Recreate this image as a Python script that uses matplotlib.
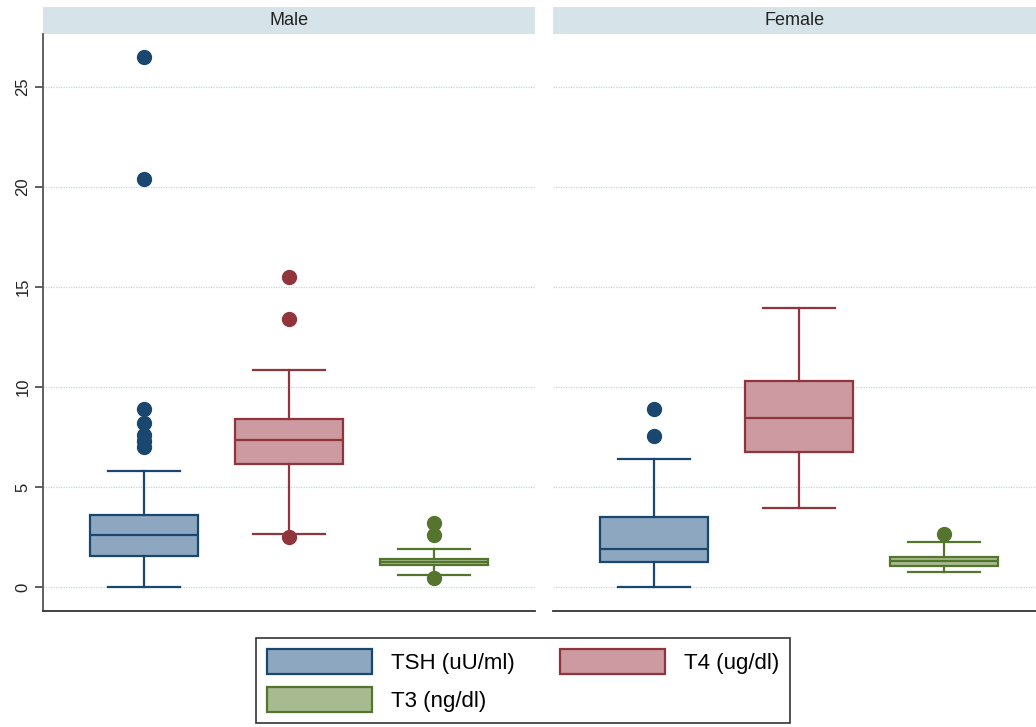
import matplotlib.pyplot as plt
from matplotlib.patches import Patch, Rectangle

plt.rcParams['font.family'] = ['Liberation Sans', 'DejaVu Sans']

panels = ['Male', 'Female']
hormones = ['TSH (uU/ml)', 'T4 (ug/dl)', 'T3 (ng/dl)']

# box summaries, order: TSH, T4, T3
male_q1 = [1.57, 6.15, 1.10]
male_med = [2.60, 7.35, 1.25]
male_q3 = [3.60, 8.40, 1.40]
male_lo = [0.00, 2.67, 0.60]
male_hi = [5.80, 10.85, 1.90]
male_out = [[7.0, 7.3, 7.6, 8.2, 8.9, 20.4, 26.5], [2.5, 13.4, 15.5], [0.45, 2.6, 3.2]]

female_q1 = [1.27, 6.73, 1.07]
female_med = [1.92, 8.47, 1.30]
female_q3 = [3.50, 10.30, 1.52]
female_lo = [0.00, 3.93, 0.73]
female_hi = [6.38, 13.93, 2.27]
female_out = [[7.57, 8.92], [], [2.67]]

edge_colors = ['#1a476f', '#90353b', '#55752f']
fill_colors = ['#8ea7c0', '#cc9aa0', '#a8bb90']

W, H = 1036, 727


def make_stats(q1, med, q3, lo, hi, out):
    stats = []
    for i in range(len(q1)):
        stats.append(dict(q1=q1[i], med=med[i], q3=q3[i], whislo=lo[i], whishi=hi[i], fliers=out[i]))
    return stats


def draw_panel(ax, stats, title):
    for i, st in enumerate(stats):
        ec = edge_colors[i]
        ax.bxp([st], positions=[i + 1], widths=0.745, capwidths=0.5, patch_artist=True,
               boxprops=dict(facecolor=fill_colors[i], edgecolor=ec, linewidth=1.6),
               medianprops=dict(color=ec, linewidth=1.6),
               whiskerprops=dict(color=ec, linewidth=1.6),
               capprops=dict(color=ec, linewidth=1.6),
               flierprops=dict(marker='o', markersize=10, markerfacecolor=ec, markeredgecolor=ec))
    ax.set_yticks([0, 5, 10, 15, 20, 25])
    ax.yaxis.grid(True, color='#b8dbe6', linestyle=(0, (1, 1)), linewidth=0.9)
    ax.set_axisbelow(True)
    ax.set_xticks([])
    for s in ['top', 'right']:
        ax.spines[s].set_visible(False)
    ax.spines['bottom'].set_color('#333333')
    ax.spines['bottom'].set_linewidth(1.3)
    # header strip
    hstrip = 27 / 577
    ax.add_patch(Rectangle((0, 1), 1, hstrip, transform=ax.transAxes, clip_on=False,
                           facecolor='#d6e4ea', edgecolor='none'))
    ax.text(0.5, 1 + hstrip / 2, title, transform=ax.transAxes, ha='center', va='center',
            fontsize=13, color='#222222')


fig = plt.figure(figsize=(W / 100, H / 100), dpi=100)
ax1 = fig.add_axes([43 / W, 1 - 611 / H, (535 - 43) / W, 577 / H])
ax2 = fig.add_axes([553 / W, 1 - 611 / H, (1036 - 553) / W, 577 / H], sharey=ax1)

draw_panel(ax1, make_stats(male_q1, male_med, male_q3, male_lo, male_hi, male_out), panels[0])
draw_panel(ax2, make_stats(female_q1, female_med, female_q3, female_lo, female_hi, female_out), panels[1])

ax1.set_xlim(0.303, 3.697)
ax2.set_xlim(0.303, 3.634)
ax1.set_ylim(-1.2, 27.65)

ax1.spines['left'].set_color('#555555')
ax1.spines['left'].set_linewidth(1.3)
ax1.tick_params(axis='y', length=6, width=1.2, color='#444444', labelsize=12,
                labelcolor='#222222', pad=3)
for lab in ax1.get_yticklabels():
    lab.set_rotation(90)
    lab.set_va('center')

ax2.spines['left'].set_visible(False)
ax2.tick_params(axis='y', left=False, labelleft=False)

handles = [Patch(facecolor=fill_colors[i], edgecolor=edge_colors[i], linewidth=1.6, label=hormones[i])
           for i in [0, 2, 1]]
leg = fig.legend(handles=handles, ncol=2, loc='upper left', bbox_to_anchor=(256 / W, 1 - 638 / H),
                 borderaxespad=0, fontsize=16, handlelength=4.73, handleheight=1.37,
                 handletextpad=0.86, columnspacing=2.0, borderpad=0.5, labelspacing=0.55,
                 fancybox=False, framealpha=1, edgecolor='#333333')
leg.get_frame().set_linewidth(1.2)

fig.savefig('out.png', dpi=100)
